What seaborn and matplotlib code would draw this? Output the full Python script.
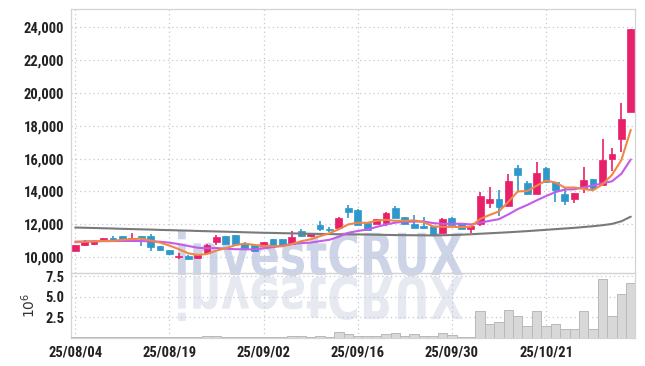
import numpy as np
import pandas as pd
import matplotlib
matplotlib.use('Agg')
import matplotlib.pyplot as plt
import seaborn as sns
from matplotlib import font_manager
from matplotlib.textpath import TextPath
from matplotlib.patches import PathPatch
from matplotlib.font_manager import FontProperties
from matplotlib.transforms import Affine2D, IdentityTransform

# ---------------- data ----------------
dates = ['25/08/04', '25/08/05', '25/08/06', '25/08/07', '25/08/08',
         '25/08/11', '25/08/12', '25/08/13', '25/08/14',
         '25/08/18', '25/08/19', '25/08/20', '25/08/21', '25/08/22',
         '25/08/25', '25/08/26', '25/08/27', '25/08/28', '25/08/29',
         '25/09/01', '25/09/02', '25/09/03', '25/09/04', '25/09/05',
         '25/09/08', '25/09/09', '25/09/10', '25/09/11', '25/09/12',
         '25/09/15', '25/09/16', '25/09/17', '25/09/18', '25/09/19',
         '25/09/22', '25/09/23', '25/09/24', '25/09/25', '25/09/26',
         '25/09/29', '25/09/30', '25/10/01', '25/10/02', '25/10/10',
         '25/10/13', '25/10/14', '25/10/15', '25/10/16', '25/10/17',
         '25/10/20', '25/10/21', '25/10/22', '25/10/23', '25/10/24',
         '25/10/27', '25/10/28', '25/10/29', '25/10/30', '25/10/31',
         '25/11/03']

opens = [10383, 10706, 10767, 11053, 11175, 11254, 11010, 11254, 11254, 10688,
         10402, 10000, 10079, 9915, 10243, 10889, 11254, 11315, 10852, 10749,
         10645, 11114, 11114, 10791, 11601, 11254, 11966, 11704, 11765, 13019,
         12879, 12070, 12009, 12070, 12983, 12435, 12027, 11863, 11863, 11461,
         12410, 12027, 11704, 12027, 13323, 13549, 13123, 15454, 14541, 13853,
         15454, 14565, 13853, 13530, 14200, 14748, 14401, 15965, 17183, 18863]
closes = [10706, 10992, 10992, 11175, 11053, 11053, 11175, 11156, 10584, 10444,
          10158, 10079, 9878, 10097, 10730, 11193, 10810, 10810, 10548, 10341,
          10889, 10749, 10749, 11193, 11254, 11461, 11704, 11643, 12410, 12739,
          11966, 11661, 12313, 12678, 12410, 12009, 11765, 11784, 11357, 12331,
          11966, 11704, 11863, 13731, 13549, 13043, 14663, 15010, 13853, 15149,
          14602, 14097, 13445, 13896, 14705, 14200, 15923, 16288, 18418, 23897]
highs = [10730, 11010, 11053, 11190, 11297, 11270, 11461, 11270, 11418, 10700,
         10420, 10243, 10100, 10110, 10790, 11357, 11270, 11330, 10940, 10770,
         10900, 11130, 11130, 11558, 11700, 11480, 12210, 11844, 12430, 13184,
         12900, 12100, 12330, 12760, 13100, 12450, 12575, 12471, 11880, 12400,
         12430, 12040, 11880, 13993, 14261, 14097, 15071, 15618, 14650, 15783,
         15470, 14580, 14297, 13910, 15515, 14760, 17183, 16635, 19374, 23920]
lows = [10360, 10690, 10750, 10931, 11040, 11040, 11000, 10688, 10341, 10341,
        10140, 9878, 9860, 9900, 10230, 10749, 10800, 10800, 10530, 10330,
        10630, 10730, 10730, 10770, 11200, 11240, 11601, 11540, 11750, 12392,
        11950, 11640, 11990, 11900, 12400, 11990, 11750, 11704, 11340, 11440,
        11950, 11690, 11461, 11905, 12983, 12514, 13100, 14036, 13800, 13830,
        14580, 13384, 13184, 13287, 13896, 14050, 14380, 15271, 16428, 18850]
volume_m = [0.03, 0.03, 0.03, 0.03, 0.03, 0.03, 0.03, 0.03, 0.12, 0.05,
            0.05, 0.05, 0.04, 0.06, 0.18, 0.15, 0.08, 0.06, 0.05, 0.12,
            0.08, 0.06, 0.05, 0.22, 0.15, 0.12, 0.20, 0.12, 0.65, 0.45,
            0.15, 0.15, 0.15, 0.45, 0.55, 0.20, 0.45, 0.20, 0.20, 0.55,
            0.25, 0.08, 0.06, 3.30, 1.60, 1.90, 3.40, 2.60, 1.35, 3.20,
            1.35, 1.60, 1.00, 1.00, 3.30, 1.00, 7.20, 2.60, 5.30, 6.70]
# moving-average values before enough closes are on the chart
ma5_head = [10900, 10930, 10960, 10985]
ma10_head = [10940, 10950, 10960, 10970, 10975, 10980, 10980, 10975, 10960]
ma_long = [11800, 11785, 11770, 11755, 11740, 11720, 11705, 11690, 11675, 11655,
           11640, 11625, 11610, 11590, 11575, 11560, 11545, 11530, 11510, 11495,
           11480, 11470, 11455, 11445, 11430, 11420, 11410, 11400, 11390, 11385,
           11380, 11370, 11360, 11350, 11340, 11335, 11330, 11325, 11320, 11330,
           11340, 11360, 11390, 11420, 11450, 11480, 11510, 11545, 11580, 11620,
           11660, 11700, 11740, 11780, 11830, 11880, 11940, 12020, 12180, 12460]

# ---------------- table ----------------
df = pd.DataFrame({'date': dates, 'open': opens, 'high': highs, 'low': lows,
                   'close': closes, 'vol': volume_m, 'ma_long': ma_long})
df['idx'] = np.arange(len(df))
ma5 = df['close'].rolling(5).mean()
ma5.iloc[:len(ma5_head)] = ma5_head
ma10 = df['close'].rolling(10).mean()
ma10.iloc[:len(ma10_head)] = ma10_head
df['ma5'] = ma5
df['ma10'] = ma10

UP = '#E8206A'
DOWN = '#2E98CC'

sns.set_theme(style='white')
installed = {f.name for f in font_manager.fontManager.ttflist}
label_font = 'DejaVu Sans'
for cand in ['Liberation Sans Narrow', 'DejaVu Sans Condensed', 'Roboto Condensed', 'Roboto']:
    if cand in installed:
        label_font = cand
        break
plt.rcParams['font.family'] = [label_font, 'DejaVu Sans']
LBL = dict(fontsize=10.5, fontweight='medium' if label_font == 'Roboto' else 'bold', color='#222222')

fig = plt.figure(figsize=(6.45, 3.66), dpi=100)
fig.patch.set_facecolor('white')
ax = fig.add_axes([71/645, (366-272.5)/366, (635-71)/645, (272.5-9)/366])
axv = fig.add_axes([71/645, (366-337.5)/366, (635-71)/645, (337.5-272.5)/366])
for a in (ax, axv):
    a.set_facecolor('none')

# ---------------- watermark ----------------
wm_font = FontProperties(family='DejaVu Sans', weight='bold')
tp = TextPath((0, 0), 'investCRUX', size=100, prop=wm_font)
bb = tp.get_extents()
sx = (463 - 178) / bb.width
sy = (276 - 231) / bb.height
tr_main = Affine2D().translate(-bb.x0, -bb.y0).scale(sx, sy).translate(178, 366 - 276)
tr_mirr = Affine2D().translate(-bb.x0, -bb.y0).scale(sx, -sy).translate(178, 366 - 276)
fig.add_artist(PathPatch(tr_main.transform_path(tp), facecolor='#ced4e7', edgecolor='none',
                         transform=IdentityTransform(), zorder=-2))
fig.add_artist(PathPatch(tr_mirr.transform_path(tp), facecolor='#e7e9f1', edgecolor='none',
                         transform=IdentityTransform(), zorder=-2))

# ---------------- candles ----------------
up = df['close'] >= df['open']
cols = np.where(up, UP, DOWN)
ax.vlines(df['idx'], df['low'], df['high'], colors=cols, linewidth=1.2, zorder=2)
body_bottom = np.minimum(df['open'], df['close'])
body_h = np.maximum(np.abs(df['close'] - df['open']), 25)
ax.bar(df['idx'], body_h, bottom=body_bottom, width=0.72, color=cols,
       edgecolor=cols, linewidth=0.5, zorder=3)

sns.lineplot(data=df, x='idx', y='ma_long', ax=ax, color='#7a7a7a', linewidth=1.5, zorder=4)
sns.lineplot(data=df, x='idx', y='ma10', ax=ax, color='#C55BEA', linewidth=1.5, zorder=5)
sns.lineplot(data=df, x='idx', y='ma5', ax=ax, color='#EF8746', linewidth=1.5, zorder=6)

# ---------------- volume ----------------
sns.barplot(data=df, x='idx', y='vol', ax=axv, color='#d8d8d8', saturation=1,
            edgecolor='#b9b9b9', linewidth=0.7, width=1.0, zorder=3)

# ---------------- axes styling ----------------
xlim = (-0.45, 59.45)
tick_pos = list(range(0, len(dates), 10))
for a in (ax, axv):
    a.set_xlim(*xlim)
    a.set_xticks(tick_pos)
    a.grid(True, which='major', color='#c3c8da', linestyle=(0, (1, 2.5)), linewidth=0.9, zorder=0)
    a.set_axisbelow(True)
    for s in a.spines.values():
        s.set_color('#d4d4d8')
        s.set_linewidth(0.9)
    a.tick_params(length=0, pad=5)
    a.set_xlabel('')
    a.set_ylabel('')

ax.set_xticklabels([])
ax.set_ylim(9060, 25110)
yt = list(range(10000, 24001, 2000))
ax.set_yticks(yt)
ax.set_yticklabels([f'{v:,}' for v in yt], **LBL)

axv.set_xticklabels([dates[i] for i in tick_pos], **LBL)
axv.set_ylim(0, 7.95)
axv.set_yticks([2.5, 5.0, 7.5])
axv.set_yticklabels(['2.5', '5.0', '7.5'], **LBL)
axv.set_ylabel('$10^6$', fontsize=10, color='#333333', labelpad=5)
axv.tick_params(axis='x', pad=6)

fig.savefig('out.png', dpi=100, facecolor='white')
